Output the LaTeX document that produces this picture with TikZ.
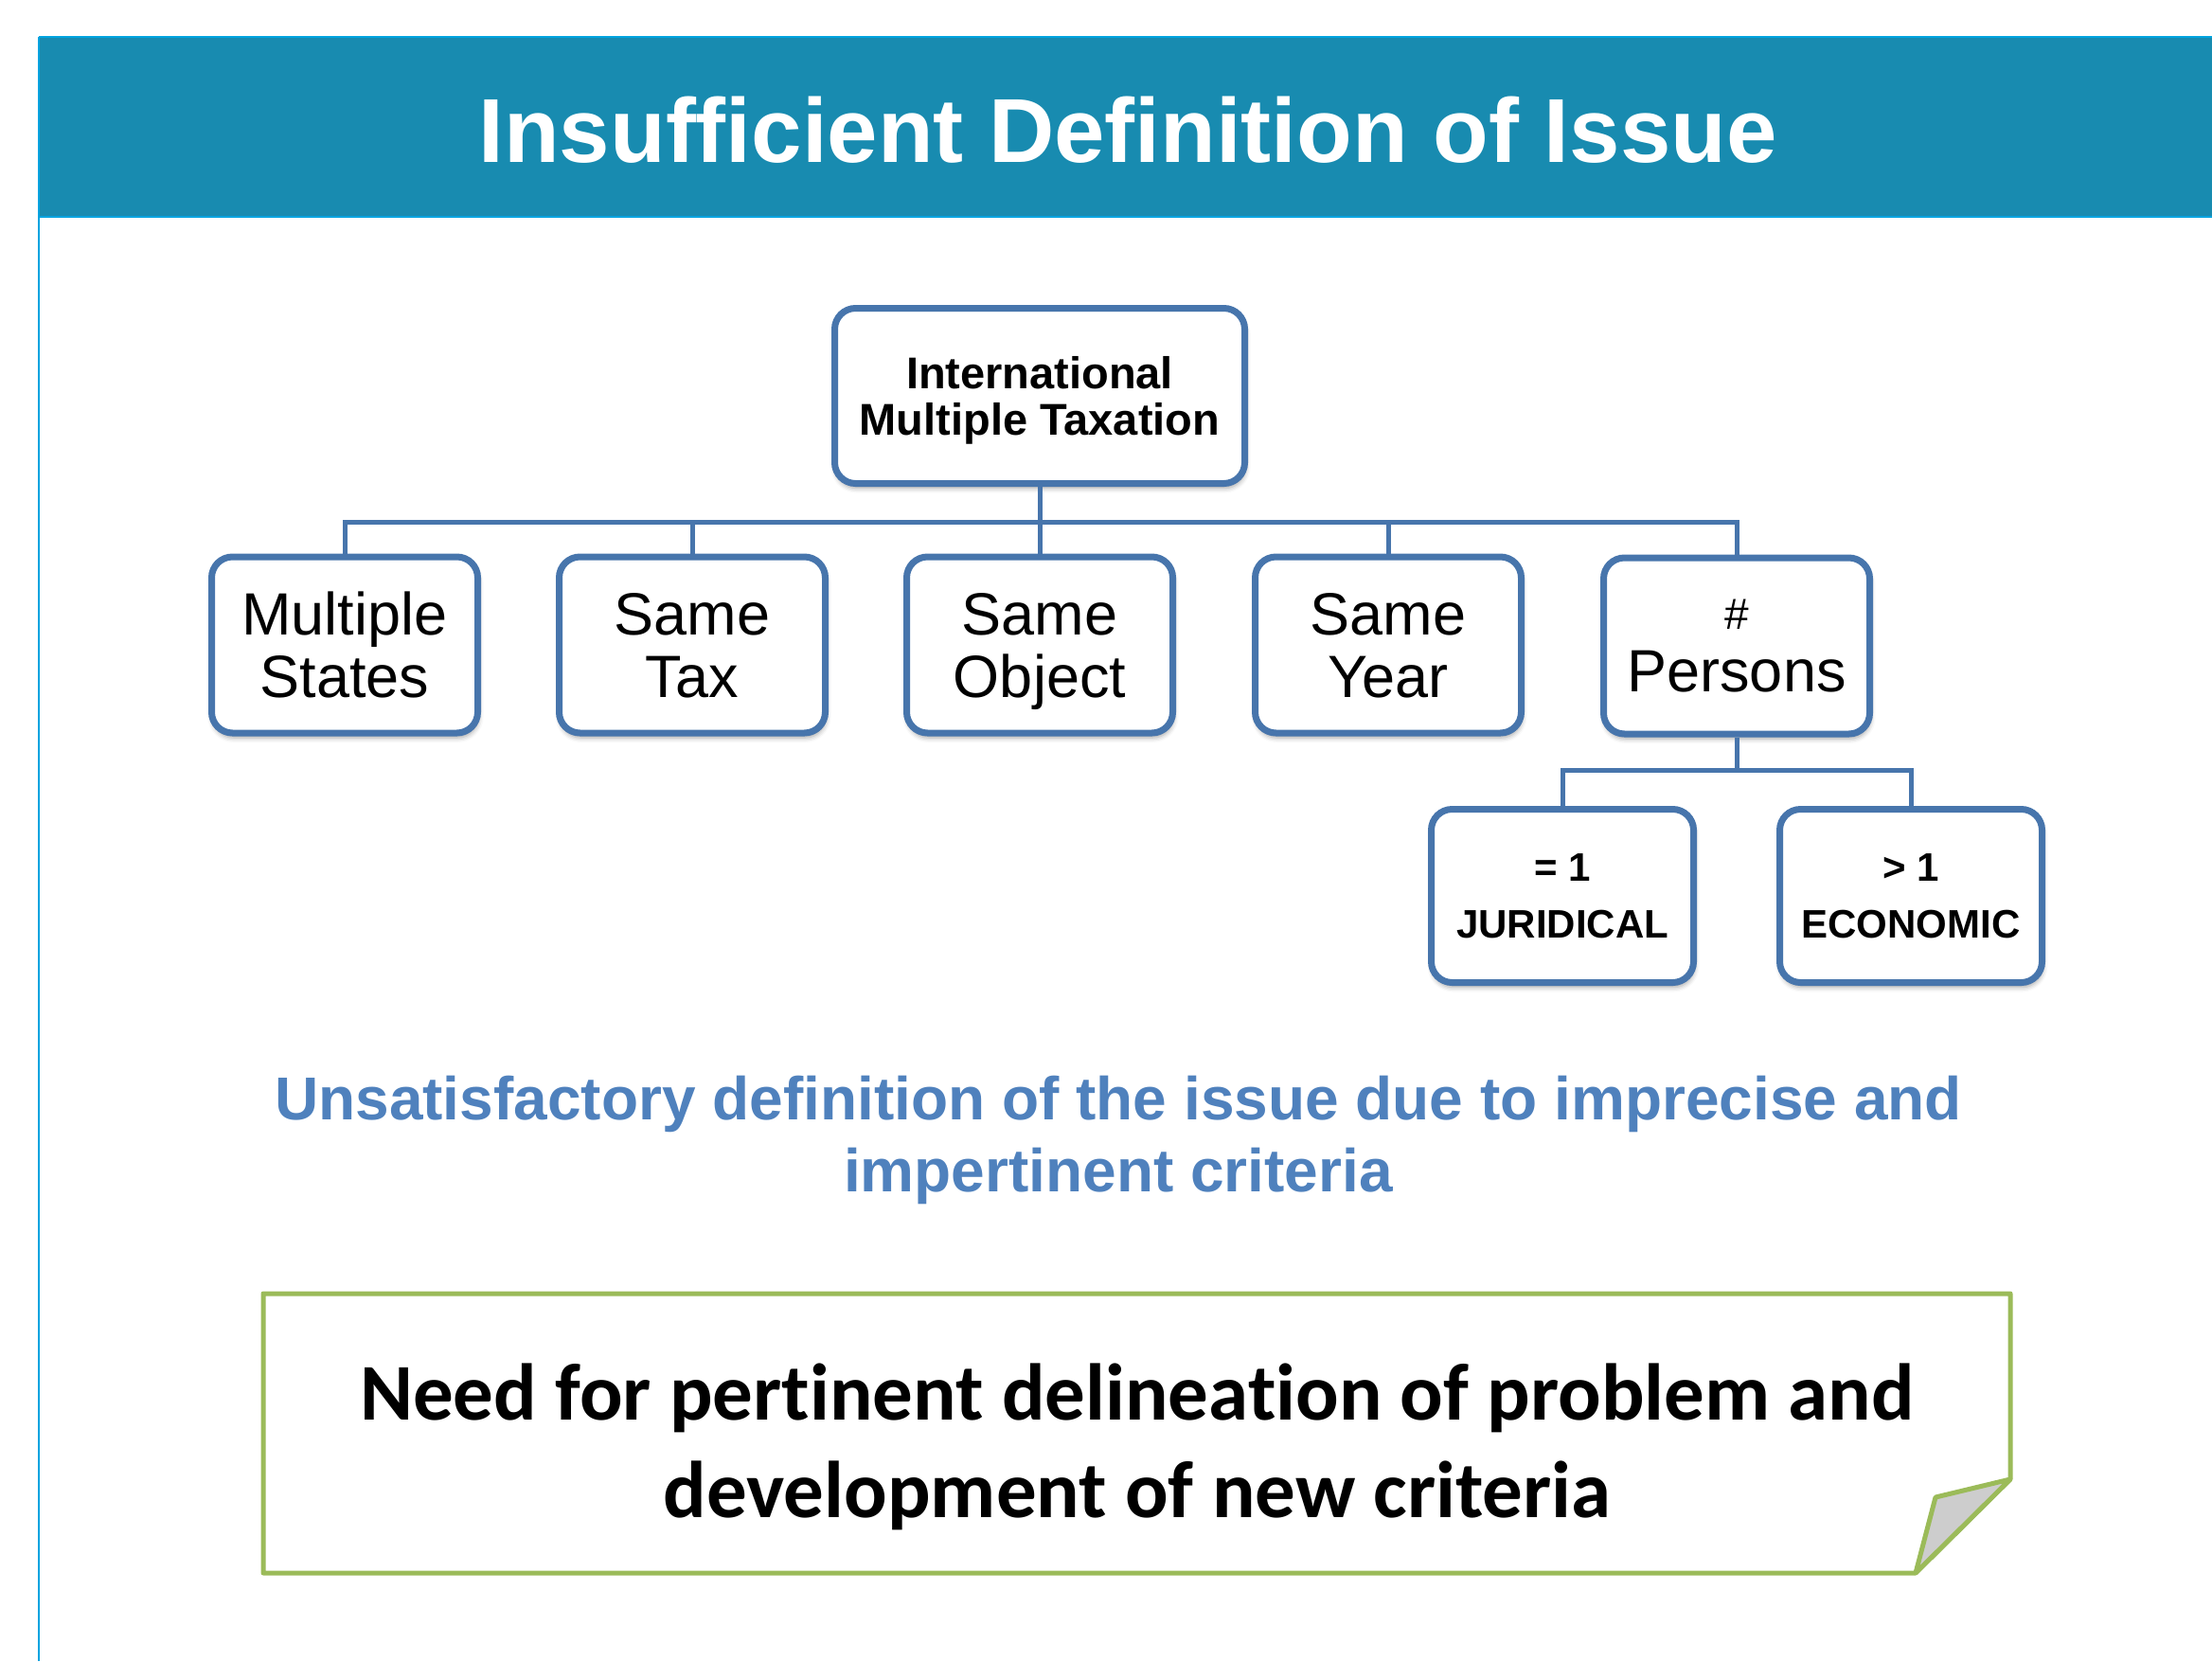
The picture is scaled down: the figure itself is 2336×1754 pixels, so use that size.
\documentclass[tikz,border=0pt]{standalone}
\usepackage{fontspec}
\setmainfont{Liberation Sans}
\newfontfamily\notefont[Ligatures=NoCommon]{Carlito}
\usetikzlibrary{shadows.blur}
\definecolor{cBar}{RGB}{24,139,176}
\definecolor{cRule}{RGB}{0,163,224}
\definecolor{cBox}{RGB}{71,117,172}
\definecolor{cSub}{RGB}{79,129,189}
\definecolor{cNote}{RGB}{155,187,89}
\definecolor{cFold}{RGB}{205,205,205}
\tikzset{
  crit/.style={draw=cBox,line width=7pt,rounded corners=22pt,fill=white,
    align=center,inner sep=0pt,text depth=0pt,minimum width=281pt,minimum height=186pt,
    font=\fontsize{63}{66}\selectfont,
    blur shadow={shadow xshift=1pt,shadow yshift=-5pt,shadow blur radius=5pt,shadow opacity=35}},
  kind/.style={crit,minimum width=277pt,minimum height=183pt,
    font=\fontsize{42}{60}\selectfont\bfseries},
  link/.style={draw=cBox,line width=5pt},
}
\begin{document}
\begin{tikzpicture}[x=1pt,y=-1pt]
\useasboundingbox (0,0) rectangle (2336,1754);
% header band
\fill[cBar] (41,39) rectangle (2336,229);
\draw[cRule,line width=2.5pt] (41,39) -- (2336,39);
\draw[cRule,line width=2.5pt] (41,229) -- (2336,229);
\draw[cRule,line width=2.5pt] (41,39) -- (41,1754);
\node[anchor=base,text=white,font=\fontsize{96}{96}\selectfont\bfseries] (title) at (1191,171) {Insufficient Definition of Issue};
% criteria tree
\node[crit,minimum width=433pt,minimum height=185pt,font=\fontsize{47}{49}\selectfont\bfseries] (imt) at (1098,418) {International\\Multiple Taxation};
\node[crit] (ms) at (364,681) {Multiple\\States};
\node[crit] (st) at (731,681) {Same\\Tax};
\node[crit] (so) at (1098,681) {Same\\Object};
\node[crit] (sy) at (1466,681) {Same\\Year};
\node[crit] (per) at (1834,682) {{\fontsize{46}{46}\selectfont\#}\\Persons};
\node[kind] (jur) at (1650,946) {= 1\\JURIDICAL};
\node[kind] (eco) at (2018,946) {> 1\\ECONOMIC};
\coordinate (bus) at (1098,551);
\coordinate (fork) at (1834,813);
\draw[link] (imt.south) -- (so.north);
\draw[link] (ms.north) |- (bus) -| (per.north);
\draw[link] (st.north) -- (st.north |- bus);
\draw[link] (sy.north) -- (sy.north |- bus);
\draw[link] (per.south) -- (fork);
\draw[link] (jur.north) |- (fork) -| (eco.north);
% conclusion
\node[text=cSub,align=center,font=\fontsize{64}{76}\selectfont\bfseries] (issue) at (1181,1204) {Unsatisfactory definition of the issue due to imprecise and\\impertinent criteria};
\draw[cNote,line width=5pt,line join=round,fill=white] (278,1366) -- (2123,1366) -- (2123,1562) -- (2023,1661) -- (278,1661) -- cycle;
\filldraw[fill=cFold,draw=cNote,line width=5pt,line join=round] (2123,1562) -- (2044,1581) -- (2023,1661) -- cycle;
\node[align=center,font=\notefont\fontsize{85}{103}\selectfont\bfseries] (need) at (1201,1528) {Need for pertinent delineation of problem and\\development of new criteria};
\end{tikzpicture}
\end{document}
